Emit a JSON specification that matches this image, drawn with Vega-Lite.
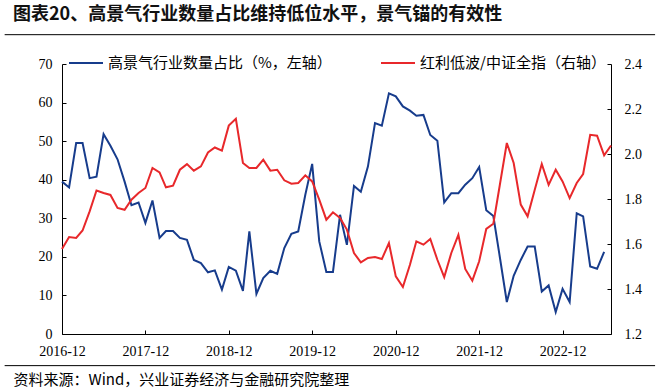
{
  "$schema": "https://vega.github.io/schema/vega-lite/v6.json",
  "width": 549,
  "height": 270,
  "autosize": {"type": "none"},
  "padding": {"left": 62, "top": 64, "right": 49, "bottom": 58},
  "background": "white",
  "title": {
    "text": "图表20、高景气行业数量占比维持低位水平，景气锚的有效性",
    "anchor": "start",
    "frame": "group",
    "dx": -49,
    "offset": -8,
    "baseline": "bottom",
    "font": "Noto Sans CJK SC",
    "fontSize": 18,
    "fontWeight": "bold",
    "color": "#111111"
  },
  "config": {
    "view": {"stroke": null},
    "axis": {
      "domainColor": "#000000",
      "tickColor": "#000000",
      "labelColor": "#000000",
      "labelFont": "Liberation Serif",
      "labelFontSize": 14,
      "grid": false,
      "tickSize": -4,
      "domainWidth": 1,
      "tickWidth": 1,
      "labelOverlap": false
    },
    "legend": {
      "orient": "none",
      "legendX": 6,
      "legendY": -19,
      "direction": "horizontal",
      "symbolType": "stroke",
      "symbolSize": 1156,
      "symbolStrokeWidth": 2,
      "labelFont": "Noto Sans CJK SC",
      "labelFontSize": 15,
      "labelColor": "#000000",
      "labelOffset": 4,
      "columnPadding": 45,
      "labelLimit": 400,
      "padding": 0,
      "title": null
    }
  },
  "datasets": {
    "share": [
      {"date": "2016-12-01", "v": 39.5}, {"date": "2017-01-01", "v": 38.0}, {"date": "2017-02-01", "v": 49.5},
      {"date": "2017-03-01", "v": 49.5}, {"date": "2017-04-01", "v": 40.4}, {"date": "2017-05-01", "v": 40.8},
      {"date": "2017-06-01", "v": 51.8}, {"date": "2017-07-01", "v": 48.8}, {"date": "2017-08-01", "v": 45.3},
      {"date": "2017-09-01", "v": 39.5}, {"date": "2017-10-01", "v": 33.4}, {"date": "2017-11-01", "v": 34.1},
      {"date": "2017-12-01", "v": 28.8}, {"date": "2018-01-01", "v": 34.6}, {"date": "2018-02-01", "v": 24.9},
      {"date": "2018-03-01", "v": 26.7}, {"date": "2018-04-01", "v": 26.7}, {"date": "2018-05-01", "v": 24.9},
      {"date": "2018-06-01", "v": 24.4}, {"date": "2018-07-01", "v": 19.2}, {"date": "2018-08-01", "v": 18.4},
      {"date": "2018-09-01", "v": 16.0}, {"date": "2018-10-01", "v": 16.5}, {"date": "2018-11-01", "v": 11.5},
      {"date": "2018-12-01", "v": 17.4}, {"date": "2019-01-01", "v": 16.4}, {"date": "2019-02-01", "v": 11.2},
      {"date": "2019-03-01", "v": 26.6}, {"date": "2019-04-01", "v": 10.4}, {"date": "2019-05-01", "v": 14.5},
      {"date": "2019-06-01", "v": 16.4}, {"date": "2019-07-01", "v": 15.6}, {"date": "2019-08-01", "v": 22.3},
      {"date": "2019-09-01", "v": 26.0}, {"date": "2019-10-01", "v": 26.6}, {"date": "2019-11-01", "v": 36.1},
      {"date": "2019-12-01", "v": 44.1}, {"date": "2020-01-01", "v": 24.0}, {"date": "2020-02-01", "v": 16.1},
      {"date": "2020-03-01", "v": 16.1}, {"date": "2020-04-01", "v": 30.9}, {"date": "2020-05-01", "v": 23.1},
      {"date": "2020-06-01", "v": 38.4}, {"date": "2020-07-01", "v": 36.9}, {"date": "2020-08-01", "v": 43.4},
      {"date": "2020-09-01", "v": 54.7}, {"date": "2020-10-01", "v": 54.0}, {"date": "2020-11-01", "v": 62.4},
      {"date": "2020-12-01", "v": 61.6}, {"date": "2021-01-01", "v": 59.0}, {"date": "2021-02-01", "v": 57.9},
      {"date": "2021-03-01", "v": 56.6}, {"date": "2021-04-01", "v": 56.8}, {"date": "2021-05-01", "v": 51.6},
      {"date": "2021-06-01", "v": 50.1}, {"date": "2021-07-01", "v": 34.1}, {"date": "2021-08-01", "v": 36.5},
      {"date": "2021-09-01", "v": 36.5}, {"date": "2021-10-01", "v": 38.7}, {"date": "2021-11-01", "v": 40.4},
      {"date": "2021-12-01", "v": 43.3}, {"date": "2022-01-01", "v": 32.1}, {"date": "2022-02-01", "v": 30.6},
      {"date": "2022-03-01", "v": 20.1}, {"date": "2022-04-01", "v": 8.3}, {"date": "2022-05-01", "v": 15.1},
      {"date": "2022-06-01", "v": 19.2}, {"date": "2022-07-01", "v": 22.7}, {"date": "2022-08-01", "v": 22.7},
      {"date": "2022-09-01", "v": 11.0}, {"date": "2022-10-01", "v": 12.6}, {"date": "2022-11-01", "v": 5.7},
      {"date": "2022-12-01", "v": 11.7}, {"date": "2023-01-01", "v": 8.3}, {"date": "2023-02-01", "v": 31.3},
      {"date": "2023-03-01", "v": 30.5}, {"date": "2023-04-01", "v": 17.5}, {"date": "2023-05-01", "v": 16.9},
      {"date": "2023-06-01", "v": 21.3}
    ],
    "ratio": [
      {"date": "2016-12-01", "v": 1.578}, {"date": "2017-01-01", "v": 1.631}, {"date": "2017-02-01", "v": 1.627},
      {"date": "2017-03-01", "v": 1.660}, {"date": "2017-04-01", "v": 1.745}, {"date": "2017-05-01", "v": 1.838},
      {"date": "2017-06-01", "v": 1.827}, {"date": "2017-07-01", "v": 1.818}, {"date": "2017-08-01", "v": 1.760},
      {"date": "2017-09-01", "v": 1.752}, {"date": "2017-10-01", "v": 1.797}, {"date": "2017-11-01", "v": 1.827},
      {"date": "2017-12-01", "v": 1.849}, {"date": "2018-01-01", "v": 1.938}, {"date": "2018-02-01", "v": 1.918},
      {"date": "2018-03-01", "v": 1.852}, {"date": "2018-04-01", "v": 1.859}, {"date": "2018-05-01", "v": 1.930},
      {"date": "2018-06-01", "v": 1.955}, {"date": "2018-07-01", "v": 1.926}, {"date": "2018-08-01", "v": 1.945},
      {"date": "2018-09-01", "v": 2.007}, {"date": "2018-10-01", "v": 2.029}, {"date": "2018-11-01", "v": 2.015},
      {"date": "2018-12-01", "v": 2.126}, {"date": "2019-01-01", "v": 2.156}, {"date": "2019-02-01", "v": 1.960},
      {"date": "2019-03-01", "v": 1.938}, {"date": "2019-04-01", "v": 1.938}, {"date": "2019-05-01", "v": 1.975},
      {"date": "2019-06-01", "v": 1.926}, {"date": "2019-07-01", "v": 1.930}, {"date": "2019-08-01", "v": 1.883},
      {"date": "2019-09-01", "v": 1.868}, {"date": "2019-10-01", "v": 1.871}, {"date": "2019-11-01", "v": 1.905},
      {"date": "2019-12-01", "v": 1.878}, {"date": "2020-01-01", "v": 1.797}, {"date": "2020-02-01", "v": 1.708},
      {"date": "2020-03-01", "v": 1.741}, {"date": "2020-04-01", "v": 1.716}, {"date": "2020-05-01", "v": 1.664},
      {"date": "2020-06-01", "v": 1.560}, {"date": "2020-07-01", "v": 1.518}, {"date": "2020-08-01", "v": 1.538},
      {"date": "2020-09-01", "v": 1.542}, {"date": "2020-10-01", "v": 1.533}, {"date": "2020-11-01", "v": 1.604},
      {"date": "2020-12-01", "v": 1.456}, {"date": "2021-01-01", "v": 1.409}, {"date": "2021-02-01", "v": 1.508},
      {"date": "2021-03-01", "v": 1.612}, {"date": "2021-04-01", "v": 1.597}, {"date": "2021-05-01", "v": 1.622},
      {"date": "2021-06-01", "v": 1.530}, {"date": "2021-07-01", "v": 1.453}, {"date": "2021-08-01", "v": 1.560},
      {"date": "2021-09-01", "v": 1.641}, {"date": "2021-10-01", "v": 1.489}, {"date": "2021-11-01", "v": 1.437},
      {"date": "2021-12-01", "v": 1.523}, {"date": "2022-01-01", "v": 1.667}, {"date": "2022-02-01", "v": 1.690},
      {"date": "2022-03-01", "v": 1.860}, {"date": "2022-04-01", "v": 2.049}, {"date": "2022-05-01", "v": 1.960},
      {"date": "2022-06-01", "v": 1.775}, {"date": "2022-07-01", "v": 1.723}, {"date": "2022-08-01", "v": 1.840},
      {"date": "2022-09-01", "v": 1.956}, {"date": "2022-10-01", "v": 1.863}, {"date": "2022-11-01", "v": 1.930},
      {"date": "2022-12-01", "v": 1.878}, {"date": "2023-01-01", "v": 1.804}, {"date": "2023-02-01", "v": 1.871},
      {"date": "2023-03-01", "v": 1.911}, {"date": "2023-04-01", "v": 2.085}, {"date": "2023-05-01", "v": 2.081},
      {"date": "2023-06-01", "v": 1.994}, {"date": "2023-07-01", "v": 2.038}
    ]
  },
  "layer": [
    {
      "data": {"name": "share"},
      "mark": {"type": "line", "strokeWidth": 2},
      "encoding": {
        "x": {
          "field": "date",
          "type": "temporal",
          "scale": {"domain": [{"year": 2016, "month": 12, "date": 1}, {"year": 2023, "month": 7, "date": 1}]},
          "axis": {
            "values": [
              {"year": 2016, "month": 12, "date": 1}, {"year": 2017, "month": 12, "date": 1},
              {"year": 2018, "month": 12, "date": 1}, {"year": 2019, "month": 12, "date": 1},
              {"year": 2020, "month": 12, "date": 1}, {"year": 2021, "month": 12, "date": 1},
              {"year": 2022, "month": 12, "date": 1}
            ],
            "format": "%Y-%m",
            "labelFlush": false,
            "labelOverlap": false,
            "labelPadding": 14,
            "title": "资料来源：Wind，兴业证券经济与金融研究院整理",
            "titleFont": "Noto Sans CJK SC",
            "titleFontSize": 15,
            "titleFontWeight": "normal",
            "titleColor": "#000000",
            "titleAlign": "left",
            "titleAnchor": "start",
            "titleBaseline": "middle",
            "titleX": -49,
            "titleY": 45
          }
        },
        "y": {
          "field": "v",
          "type": "quantitative",
          "scale": {"domain": [0, 70], "nice": false},
          "axis": {"values": [0, 10, 20, 30, 40, 50, 60, 70], "labelPadding": 14, "labelOverlap": false, "title": null}
        },
        "color": {
          "datum": "高景气行业数量占比（%，左轴）",
          "type": "nominal",
          "scale": {
            "domain": ["高景气行业数量占比（%，左轴）", "红利低波/中证全指（右轴）"],
            "range": ["#173C8C", "#E8282B"]
          }
        }
      }
    },
    {
      "data": {"name": "ratio"},
      "mark": {"type": "line", "strokeWidth": 2},
      "encoding": {
        "x": {"field": "date", "type": "temporal"},
        "y": {
          "field": "v",
          "type": "quantitative",
          "scale": {"domain": [1.2, 2.4], "nice": false},
          "axis": {"orient": "right", "values": [1.2, 1.4, 1.6, 1.8, 2.0, 2.2, 2.4], "format": ".1f", "labelPadding": 17, "labelOverlap": false, "title": null}
        },
        "color": {"datum": "红利低波/中证全指（右轴）", "type": "nominal"}
      }
    },
    {
      "data": {"values": [{}]},
      "layer": [
        {
          "mark": {"type": "rule", "color": "#000000", "strokeWidth": 1},
          "encoding": {
            "x": {"datum": {"year": 2016, "month": 3, "date": 25}, "type": "temporal", "title": null},
            "x2": {"datum": {"year": 2024, "month": 1, "date": 10}},
            "y": {"datum": 77.6, "type": "quantitative", "scale": {"domain": [0, 70], "nice": false}, "axis": null}
          }
        },
        {
          "mark": {"type": "rule", "color": "#000000", "strokeWidth": 1},
          "encoding": {
            "x": {"datum": {"year": 2016, "month": 3, "date": 25}, "type": "temporal", "title": null},
            "x2": {"datum": {"year": 2024, "month": 1, "date": 10}},
            "y": {"datum": -8.2, "type": "quantitative", "scale": {"domain": [0, 70], "nice": false}, "axis": null}
          }
        }
      ]
    }
  ],
  "resolve": {"scale": {"y": "independent"}}
}
